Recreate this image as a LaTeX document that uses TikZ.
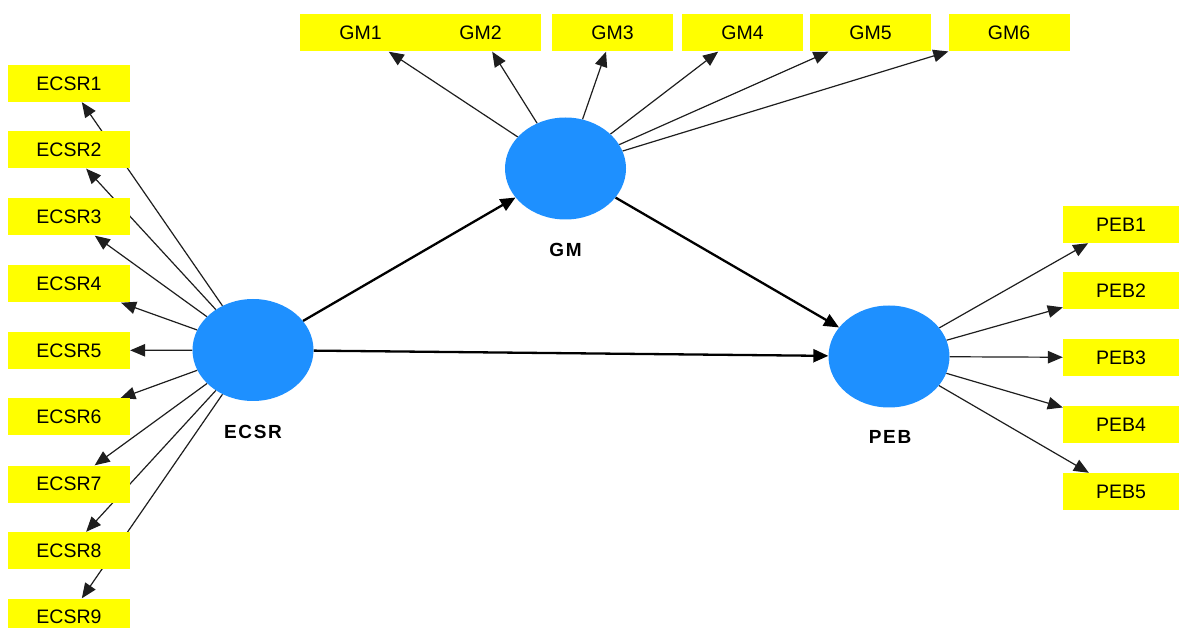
\documentclass[tikz,border=0pt]{standalone}
\usepackage{fontspec}
\setmainfont{Liberation Sans}
\usetikzlibrary{shapes.geometric,arrows.meta,backgrounds}
\definecolor{lvblue}{RGB}{30,144,255}
\definecolor{indyellow}{RGB}{255,255,0}
\definecolor{linegray}{RGB}{30,30,30}
\begin{document}
\begin{tikzpicture}[x=1pt,y=-1pt,
  ind/.style={rectangle,fill=indyellow,minimum width=121pt,minimum height=37pt,inner sep=0pt,font=\fontsize{19.5}{21}\selectfont},
  lv/.style={ellipse,fill=lvblue,minimum width=121pt,minimum height=102pt,inner sep=0pt},
  lvlabel/.style={font=\fontsize{19}{21}\selectfont\bfseries\addfontfeature{LetterSpace=9}},
  load/.style={draw=linegray,line width=1.2pt,-{Triangle[length=15pt,width=12.5pt]}},
  structpath/.style={draw=black,line width=2.3pt,-{Triangle[length=15pt,width=13pt]}}]
\useasboundingbox (0,0) rectangle (1179,628);
% latent variables
\node[lv] (ecsr) at (253,350) {};
\node[lv] (gm) at (565.5,168.5) {};
\node[lv] (peb) at (889,356.5) {};
\node[lvlabel] (ecsrlab) at (253,432) {ECSR};
\node[lvlabel] (gmlab) at (565.5,250) {GM};
\node[lvlabel] (peblab) at (890,437) {PEB};
% GM indicators
\node[ind] (gm1) at (360.5,33) {GM1};
\node[ind] (gm2) at (480.5,33) {GM2};
\node[ind] (gm3) at (612.5,33) {GM3};
\node[ind] (gm4) at (742.5,33) {GM4};
\node[ind] (gm5) at (870.5,33) {GM5};
\node[ind] (gm6) at (1009,33) {GM6};
% ECSR indicators
\foreach \i/\y in {1/83.5,2/150,3/217,4/284,5/350.5,6/417,7/484,8/550.5,9/617}{
  \node[ind,minimum width=122pt] (ecsr\i) at (69,\y) {ECSR\i};
}
% PEB indicators
\foreach \i/\y in {1/224.5,2/291,3/357.5,4/424.5,5/491.5}{
  \node[ind,minimum width=116pt] (peb\i) at (1121,\y) {PEB\i};
}
\begin{pgfonlayer}{background}
% loadings
\foreach \i in {1,...,6}{ \draw[load] (gm) -- (gm\i); }
\foreach \i in {1,...,9}{ \draw[load] (ecsr) -- (ecsr\i); }
\foreach \i in {1,...,5}{ \draw[load] (peb) -- (peb\i); }
% structural paths
\draw[structpath] (ecsr) -- (gm);
\draw[structpath] (gm) -- (peb);
\draw[structpath] (ecsr) -- (peb);
\end{pgfonlayer}
\end{tikzpicture}
\end{document}
